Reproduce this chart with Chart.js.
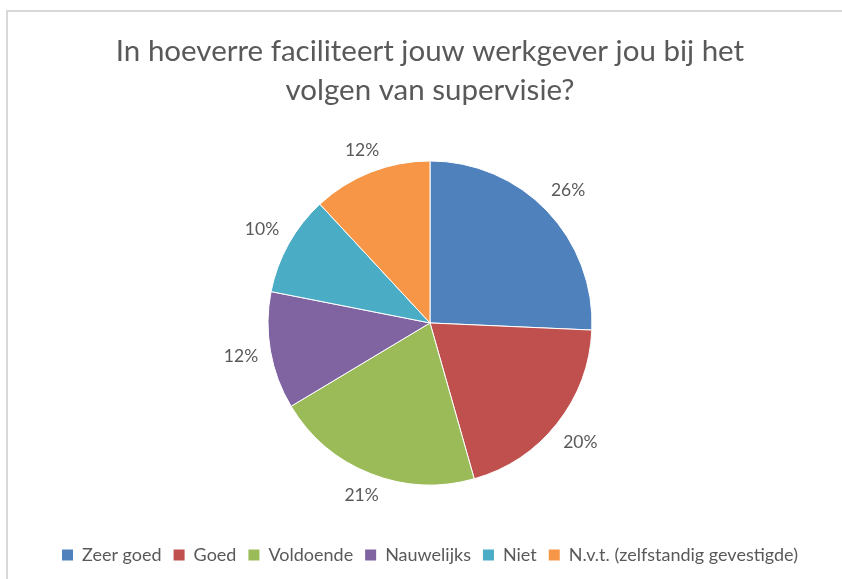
<!DOCTYPE html>
<html>
<head>
<meta charset="utf-8">
<script src="https://cdn.jsdelivr.net/npm/chart.js@4"></script>
<style>
  html, body { margin: 0; padding: 0; background: #fff; overflow: hidden; }
  #frame {
    position: absolute; left: 6px; top: 10px; width: 900px; height: 700px;
    border-top: 2px solid #d9d9d9; border-left: 2px solid #d9d9d9;
  }
  #wrap { position: absolute; left: 9px; top: 0; width: 842px; height: 579px; }
</style>
</head>
<body>
<div id="frame"></div>
<div id="wrap"><canvas id="pie"></canvas></div>
<script>
const categories = ["Zeer goed", "Goed", "Voldoende", "Nauwelijks", "Niet", "N.v.t. (zelfstandig gevestigde)"];
const shares = [25.7, 19.9, 20.8, 11.7, 10.0, 11.9];
const colors = ["#4f81bd", "#c0504d", "#9bbb59", "#8064a2", "#4bacc6", "#f79646"];
const titleLines = ["In hoeverre faciliteert jouw werkgever jou bij het", "volgen van supervisie?"];

const fontFamily = "Lato, 'Open Sans', sans-serif";
const textColor = "#595959";

const outsideLabels = {
  id: "outsideLabels",
  afterDatasetsDraw(chart) {
    const ctx = chart.ctx;
    const meta = chart.getDatasetMeta(0);
    const total = shares.reduce((a, b) => a + b, 0);
    ctx.save();
    ctx.font = "17.5px " + fontFamily;
    ctx.fillStyle = textColor;
    ctx.textAlign = "center";
    ctx.textBaseline = "middle";
    meta.data.forEach((arc, i) => {
      const mid = (arc.startAngle + arc.endAngle) / 2;
      const label = Math.round(shares[i] / total * 100) + "%";
      const w = ctx.measureText(label).width;
      const c = Math.cos(mid), s = Math.sin(mid);
      const d = arc.outerRadius + 8 + Math.abs(c) * w * 0.6 + Math.abs(s) * 9;
      ctx.fillText(label, arc.x + c * d, arc.y + s * d);
    });
    ctx.restore();
  }
};

new Chart(document.getElementById("pie"), {
  type: "pie",
  data: {
    labels: categories,
    datasets: [{
      data: shares,
      backgroundColor: colors,
      borderColor: "#ffffff",
      borderWidth: 1,
      radius: 162
    }]
  },
  options: {
    responsive: true,
    maintainAspectRatio: false,
    animation: false,
    layout: { padding: { top: 20, bottom: 5, left: 0, right: 0 } },
    plugins: {
      title: {
        display: true,
        text: titleLines,
        color: textColor,
        font: { family: fontFamily, size: 29.5, weight: "normal", lineHeight: 1.32 },
        padding: { top: 12, bottom: 2 }
      },
      legend: {
        position: "bottom",
        labels: {
          color: textColor,
          font: { family: fontFamily, size: 18 },
          boxWidth: 11,
          boxHeight: 11,
          padding: 12,
          generateLabels(chart) {
            return categories.map((c, i) => ({
              text: c,
              fillStyle: colors[i],
              strokeStyle: colors[i],
              lineWidth: 0,
              index: i,
              fontColor: textColor
            }));
          }
        }
      },
      tooltip: { enabled: false }
    }
  },
  plugins: [outsideLabels]
});
</script>
</body>
</html>
